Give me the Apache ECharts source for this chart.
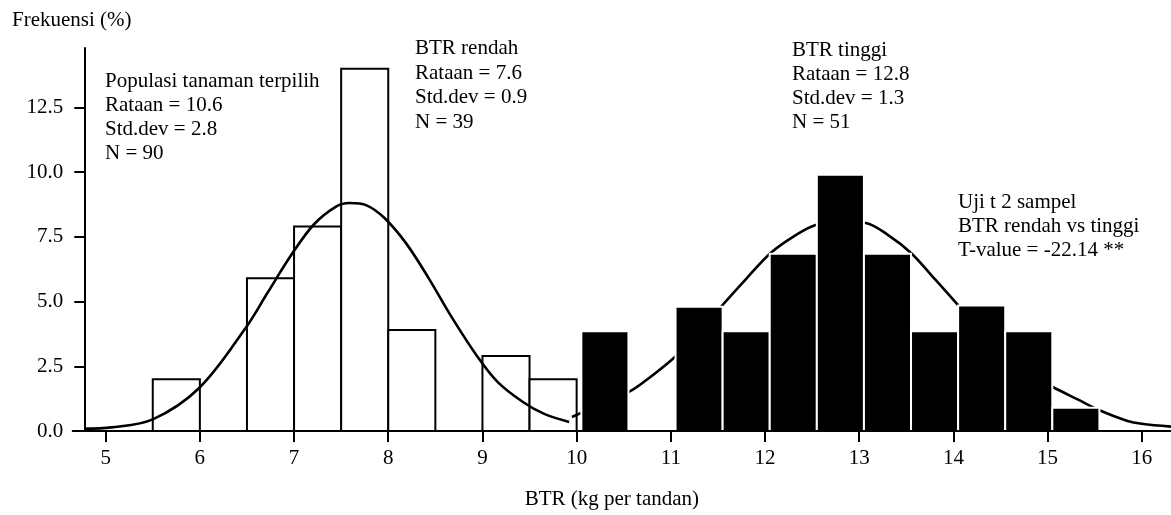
<!DOCTYPE html>
<html>
<head>
<meta charset="utf-8">
<script src="https://cdn.jsdelivr.net/npm/echarts@6/dist/echarts.min.js"></script>
<style>html,body{margin:0;padding:0;background:#fff;}#c{width:1171px;height:515px;}</style>
</head>
<body>
<div id="c"></div>
<script>
// ---- data ----
const xTicks = [5, 6, 7, 8, 9, 10, 11, 12, 13, 14, 15, 16];
const yTicks = [0, 2.5, 5, 7.5, 10, 12.5];

// BTR rendah histogram (white bars): bin start, frequency
const rendahBinStart = [5.5, 6.5, 7.0, 7.5, 8.0, 9.0, 9.5];
const rendahFreq     = [2.0, 5.9, 7.9, 14.0, 3.9, 2.9, 2.0];

// BTR tinggi histogram (black bars): bin start, frequency
const tinggiBinStart = [10.05, 11.05, 11.55, 12.05, 12.55, 13.05, 13.55, 14.05, 14.55, 15.05];
const tinggiFreq     = [3.85, 4.8, 3.85, 6.85, 9.9, 6.85, 3.85, 4.85, 3.85, 0.9];
const binWidth = 0.5;

// fitted curves
const rendahCurveX = [4.77, 5.06, 5.5, 5.99, 6.48, 6.72, 6.97, 7.21, 7.45, 7.59, 7.77, 7.96, 8.19, 8.43, 8.67, 8.94, 9.16, 9.43, 9.65, 9.92];
const rendahCurveY = [0.09, 0.14, 0.45, 1.65, 3.95, 5.35, 6.8, 7.98, 8.68, 8.81, 8.72, 8.23, 7.25, 5.9, 4.42, 2.91, 1.9, 1.12, 0.67, 0.35];
const tinggiCurveX = [9.95, 10.03, 10.55, 10.78, 11.04, 11.3, 11.54, 11.81, 12.06, 12.31, 12.53, 12.8, 13.07, 13.3, 13.55, 13.79, 14.04, 14.3, 14.55, 14.8, 15.06, 15.33, 15.55, 15.84, 16.0, 16.31];
const tinggiCurveY = [0.54, 0.67, 1.5, 2.08, 2.85, 3.8, 4.83, 5.92, 6.88, 7.53, 7.95, 8.1, 8.04, 7.59, 6.88, 5.92, 4.9, 3.8, 2.85, 2.2, 1.69, 1.2, 0.8, 0.4, 0.28, 0.17];

// annotation texts
const textPopulasi = ['Populasi tanaman terpilih', 'Rataan = 10.6', 'Std.dev = 2.8', 'N = 90'];
const textRendah = ['BTR rendah', 'Rataan = 7.6', 'Std.dev = 0.9', 'N = 39'];
const textTinggi = ['BTR tinggi', 'Rataan = 12.8', 'Std.dev = 1.3', 'N = 51'];
const textUji = ['Uji t 2 sampel', 'BTR rendah vs tinggi', 'T-value = -22.14 **'];
const yTitle = 'Frekuensi (%)';
const xTitle = 'BTR (kg per tandan)';

// ---- chart ----
const FONT = 'Liberation Serif, Times New Roman, serif';
const chart = echarts.init(document.getElementById('c'), null, {renderer: 'canvas'});

function barRenderer(fill, stroke, lw) {
  return function (params, api) {
    const s = api.value(0), v = api.value(1);
    const p0 = api.coord([s, 0]);
    const p1 = api.coord([s + binWidth, v]);
    return {
      type: 'rect',
      shape: {x: p0[0], y: p1[1], width: p1[0] - p0[0], height: p0[1] - p1[1]},
      style: {fill: fill, stroke: stroke, lineWidth: lw}
    };
  };
}

function textBlock(lines, x, y, lh) {
  return {
    type: 'text', x: x, y: y, z: 100,
    style: {text: lines.join('\n'), fontFamily: FONT, fontSize: 21, lineHeight: lh, fill: '#000', align: 'left', verticalAlign: 'top'}
  };
}

chart.setOption({
  animation: false,
  backgroundColor: '#fff',
  grid: {left: 72.7, right: 0, top: 48, bottom: 83.3, containLabel: false},
  xAxis: {
    type: 'value', min: 4.65, max: 16.31, z: 10,
    name: xTitle, nameLocation: 'middle', nameGap: 58,
    nameTextStyle: {fontFamily: FONT, fontSize: 21, color: '#000', padding: [0, 20, 0, 0]},
    axisLine: {show: true, onZero: false, lineStyle: {color: '#000', width: 2}},
    axisTick: {show: true, customValues: xTicks, length: 11, lineStyle: {color: '#000', width: 2}},
    axisLabel: {customValues: xTicks, margin: 17, fontFamily: FONT, fontSize: 21, color: '#000'},
    splitLine: {show: false}
  },
  yAxis: {
    type: 'value', min: 0, max: 14.8, offset: -11.6, z: 10,
    axisLine: {show: true, onZero: false, lineStyle: {color: '#000', width: 2}},
    axisTick: {show: true, customValues: yTicks, length: 10, lineStyle: {color: '#000', width: 2}},
    axisLabel: {customValues: yTicks, margin: 21, fontFamily: FONT, fontSize: 21, color: '#000',
      formatter: v => Number(v).toFixed(1)},
    splitLine: {show: false}
  },
  series: [
    {
      type: 'custom', name: 'BTR rendah', z: 2,
      renderItem: barRenderer('#fff', '#000', 2),
      encode: {x: 0, y: 1},
      data: rendahBinStart.map((s, i) => [s, rendahFreq[i]])
    },
    {
      type: 'line', name: 'Kurva rendah', z: 3, smooth: 0.35, symbol: 'none',
      lineStyle: {color: '#000', width: 2.6},
      data: rendahCurveX.map((x, i) => [x, rendahCurveY[i]])
    },
    {
      type: 'line', name: 'Kurva tinggi', z: 3, smooth: 0.35, symbol: 'none',
      lineStyle: {color: '#000', width: 2.6},
      data: tinggiCurveX.map((x, i) => [x, tinggiCurveY[i]])
    },
    {
      type: 'custom', name: 'BTR tinggi', z: 4,
      renderItem: barRenderer('#000', '#fff', 2),
      encode: {x: 0, y: 1},
      data: tinggiBinStart.map((s, i) => [s, tinggiFreq[i]])
    }
  ],
  graphic: [
    {type: 'text', x: 12, y: 8.5, z: 100, style: {text: yTitle, fontFamily: FONT, fontSize: 21, fill: '#000', verticalAlign: 'top', lineHeight: 24.5}},
    textBlock(textPopulasi, 105, 69.5, 24),
    textBlock(textRendah, 415, 36.5, 24.5),
    textBlock(textTinggi, 792, 38, 24),
    textBlock(textUji, 958, 190.5, 24)
  ]
});
</script>
</body>
</html>
